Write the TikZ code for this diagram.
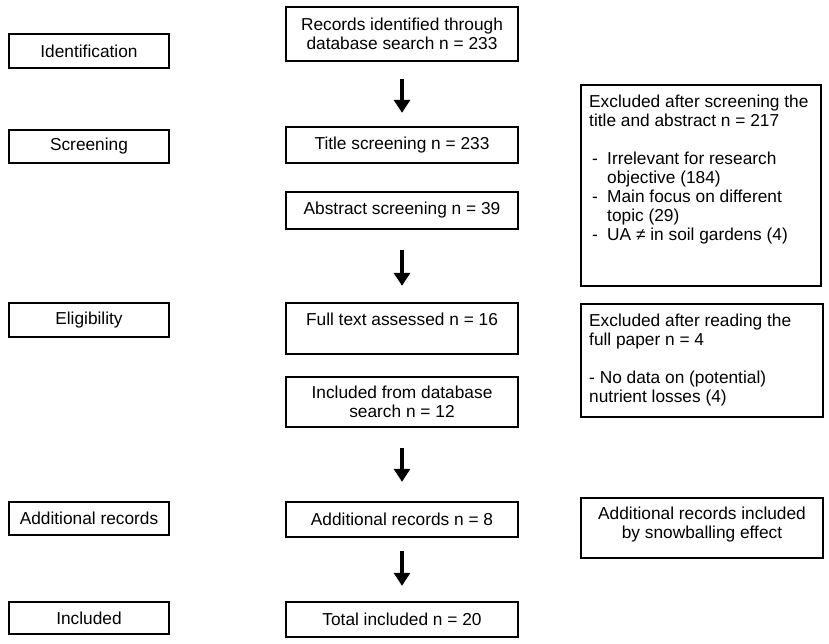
\documentclass[tikz,border=0pt]{standalone}
\usepackage{fontspec}
\setmainfont{Liberation Sans}
\usetikzlibrary{arrows.meta}
\begin{document}
\begin{tikzpicture}[x=1pt,y=-1pt,
  box/.style={draw, line width=2.4pt, rectangle, inner sep=0pt, align=center,
    font=\fontsize{17.3}{19}\selectfont},
  lbox/.style={box, minimum width=160pt},
  cbox/.style={box, minimum width=232pt},
  txt/.style={inner sep=0pt, align=left, anchor=north west,
    font=\fontsize{17.3}{19}\selectfont},
  flow/.style={line width=4pt, -{Triangle[width=16pt,length=13pt]}}]
\useasboundingbox (0,0) rectangle (829,644);
% left column
\node[lbox, minimum height=34pt] (lid) at (89,51) {Identification};
\node[lbox, minimum height=33pt] (lsc) at (89,146.5) {Screening};
\node[lbox, minimum height=34pt] (lel) at (89,320) {Eligibility};
\node[lbox, minimum height=33pt] (lad) at (89,518.5) {Additional records};
\node[lbox, minimum height=32pt] (lin) at (89,618) {Included};
% centre column
\node[cbox, minimum height=54pt] (rec) at (402,34) {Records identified through\\database search n = 233};
\node[cbox, minimum height=36pt] (tit) at (402,145) {Title screening n = 233};
\node[cbox, minimum height=37pt] (abs) at (402,210.5) {Abstract screening n = 39};
\node[cbox, minimum height=51pt] (ful) at (402,328.5) {Full text assessed n = 16\\\mbox{}};
\node[cbox, minimum height=50pt] (inc) at (402,402) {Included from database\\search n = 12};
\node[cbox, minimum height=35pt] (add) at (402,519.5) {Additional records n = 8};
\node[cbox, minimum height=35pt] (tot) at (402,619.5) {Total included n = 20};
% right column
\node[box, minimum width=240pt, minimum height=201pt] (ex1) at (701,185.5) {};
\node[txt] (ex1t) at (589,93.7) {\strut Excluded after screening the\\title and abstract n = 217\\[19pt]
\makebox[18pt][l]{\,-}Irrelevant for research\\\hspace*{18pt}objective (184)\\
\makebox[18pt][l]{\,-}Main focus on different\\\hspace*{18pt}topic (29)\\
\makebox[18pt][l]{\,-}UA ≠ in soil gardens (4)};
\node[box, minimum width=242pt, minimum height=113pt] (ex2) at (702,360.5) {};
\node[txt] (ex2t) at (589,312.7) {\strut Excluded after reading the\\full paper n = 4\\[19pt]
- No data on (potential)\\nutrient losses (4)};
\node[box, minimum width=242pt, minimum height=60pt] (snow) at (702,528) {};
\node[txt, anchor=center, align=center] (snowt) at (702,524.5) {Additional records included\\by snowballing effect};
% arrows
\draw[flow, shorten <=17pt, shorten >=13pt] (rec.south) -- (tit.north);
\draw[flow, shorten <=20pt, shorten >=16pt] (abs.south) -- (ful.north);
\draw[flow, shorten <=20pt, shorten >=19pt] (inc.south) -- (add.north);
\draw[flow, shorten <=13pt, shorten >=15pt] (add.south) -- (tot.north);
\end{tikzpicture}
\end{document}
